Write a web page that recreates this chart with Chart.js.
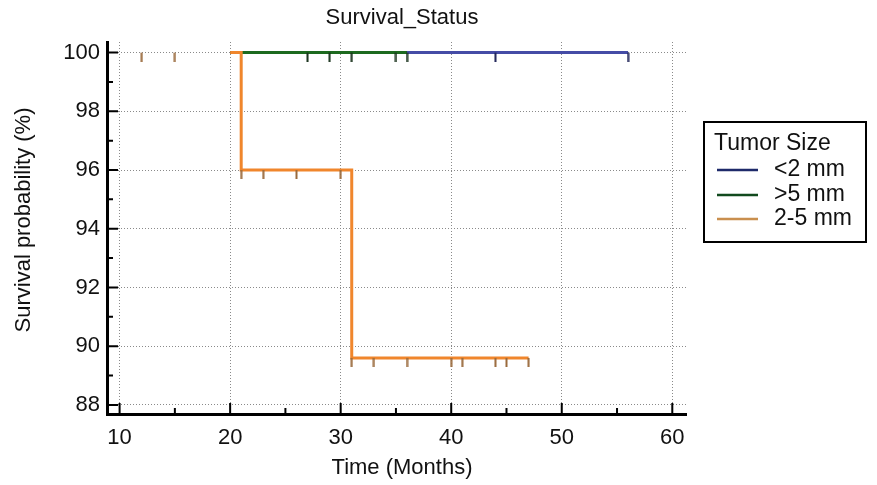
<!DOCTYPE html>
<html>
<head>
<meta charset="utf-8">
<script src="https://cdn.jsdelivr.net/npm/chart.js@4.4.1/dist/chart.umd.min.js"></script>
<style>
  html, body { margin: 0; padding: 0; background: #fff; }
</style>
</head>
<body>
<canvas id="km" width="877" height="485"></canvas>
<script>
const groups = ['<2 mm', '>5 mm', '2-5 mm'];

// Kaplan-Meier steps (months, survival %)
const smallTime = [20, 56];
const smallSurv = [100, 100];
const largeTime = [20, 36];
const largeSurv = [100, 100];
const midTime = [20, 21, 31, 47];
const midSurv = [100, 96, 89.6, 89.6];

// censored cases
const smallCensTime = [44, 56];
const smallCensSurv = [100, 100];
const largeCensTime = [27, 29, 31, 35, 36];
const largeCensSurv = [100, 100, 100, 100, 100];
const midCensTime = [12, 15, 21, 23, 26, 30, 31, 33, 36, 40, 41, 44, 45, 47];
const midCensSurv = [100, 100, 96, 96, 96, 96, 89.6, 89.6, 89.6, 89.6, 89.6, 89.6, 89.6, 89.6];

const xTicks = [10, 20, 30, 40, 50, 60];
const yTicks = [88, 90, 92, 94, 96, 98, 100];
const xMinor = [15, 25, 35, 45, 55];
const yMinor = [89, 91, 93, 95, 97, 99];

const lineColors = ['#454ca6', '#1d6a1f', '#f0862c'];
const censColors = ['#1f2458', '#17301a', '#9a6a3c'];
const legendColors = ['#1e2a6a', '#114a1e', '#c98f4e'];

const FONT = 'Liberation Sans, Arial, sans-serif';

const pts = (xs, ys) => xs.map((x, i) => ({ x: x, y: ys[i] }));

// little downward tick used as censor mark
function censorMark(color) {
  const c = document.createElement('canvas');
  c.width = 3; c.height = 18;
  const g = c.getContext('2d');
  g.fillStyle = color;
  g.fillRect(0.5, 9, 2, 9);
  return c;
}

const times = [smallTime, largeTime, midTime];
const survs = [smallSurv, largeSurv, midSurv];
const cTimes = [smallCensTime, largeCensTime, midCensTime];
const cSurvs = [smallCensSurv, largeCensSurv, midCensSurv];

const datasets = [];
// censor marks on top, orange drawn last
for (let i = 2; i >= 0; i--) {
  datasets.push({
    label: groups[i] + ' censored',
    data: pts(cTimes[i], cSurvs[i]),
    showLine: false,
    pointStyle: censorMark(censColors[i]),
    pointRadius: 5
  });
}
for (let i = 2; i >= 0; i--) {
  datasets.push({
    label: groups[i],
    data: pts(times[i], survs[i]),
    showLine: true,
    borderColor: lineColors[i],
    borderWidth: 3,
    stepped: true,
    pointRadius: 0,
    fill: false
  });
}

const decor = {
  id: 'decor',
  afterDraw(chart) {
    const ctx = chart.ctx;
    const xs = chart.scales.x, ys = chart.scales.y;
    const area = chart.chartArea;
    ctx.save();
    // inward ticks
    ctx.strokeStyle = '#000';
    ctx.lineWidth = 2;
    ctx.beginPath();
    xTicks.forEach(v => { const p = xs.getPixelForValue(v); ctx.moveTo(p, area.bottom); ctx.lineTo(p, area.bottom - 11); });
    xMinor.forEach(v => { const p = xs.getPixelForValue(v); ctx.moveTo(p, area.bottom); ctx.lineTo(p, area.bottom - 6); });
    yTicks.forEach(v => { const p = ys.getPixelForValue(v); ctx.moveTo(area.left, p); ctx.lineTo(area.left + 11, p); });
    yMinor.forEach(v => { const p = ys.getPixelForValue(v); ctx.moveTo(area.left, p); ctx.lineTo(area.left + 6, p); });
    ctx.stroke();

    // titles
    ctx.fillStyle = '#111';
    ctx.textAlign = 'center';
    ctx.textBaseline = 'middle';
    ctx.font = '22px ' + FONT;
    ctx.fillText('Survival_Status', 402, 18);
    ctx.fillText('Time (Months)', 402, 468);
    ctx.save();
    ctx.translate(24, 220);
    ctx.rotate(-Math.PI / 2);
    ctx.fillText('Survival probability (%)', 0, 0);
    ctx.restore();

    // legend box
    ctx.lineWidth = 2;
    ctx.strokeStyle = '#000';
    ctx.strokeRect(704, 122, 162, 120);
    ctx.textAlign = 'left';
    ctx.font = '23px ' + FONT;
    ctx.fillText('Tumor Size', 714, 144);
    const rows = [170, 195, 219];
    groups.forEach((g, i) => {
      ctx.strokeStyle = legendColors[i];
      ctx.lineWidth = 2.5;
      ctx.beginPath();
      ctx.moveTo(717, rows[i]);
      ctx.lineTo(758, rows[i]);
      ctx.stroke();
      ctx.fillText(g, 774, rows[i]);
    });
    ctx.restore();
  }
};

new Chart(document.getElementById('km'), {
  type: 'scatter',
  data: { datasets: datasets },
  options: {
    responsive: false,
    animation: false,
    layout: { padding: { top: 42, right: 191, left: 0, bottom: 0 } },
    plugins: {
      legend: { display: false },
      title: { display: false },
      tooltip: { enabled: false }
    },
    scales: {
      x: {
        type: 'linear',
        min: 8.86,
        max: 61.24,
        afterBuildTicks: s => { s.ticks = xTicks.map(v => ({ value: v })); },
        afterFit: s => { s.height = 71; },
        ticks: { color: '#111', padding: 11, font: { family: FONT, size: 22 } },
        grid: { color: '#8a8a8a', lineWidth: 1, drawTicks: false },
        border: { display: true, color: '#000', width: 3, dash: [1, 2] }
      },
      y: {
        type: 'linear',
        min: 87.69,
        max: 100.36,
        afterBuildTicks: s => { s.ticks = yTicks.map(v => ({ value: v })); },
        afterFit: s => { s.width = 107; },
        ticks: { color: '#111', padding: 7, font: { family: FONT, size: 22 } },
        grid: { color: '#8a8a8a', lineWidth: 1, drawTicks: false },
        border: { display: true, color: '#000', width: 3, dash: [1, 2] }
      }
    }
  },
  plugins: [decor]
});
</script>
</body>
</html>
